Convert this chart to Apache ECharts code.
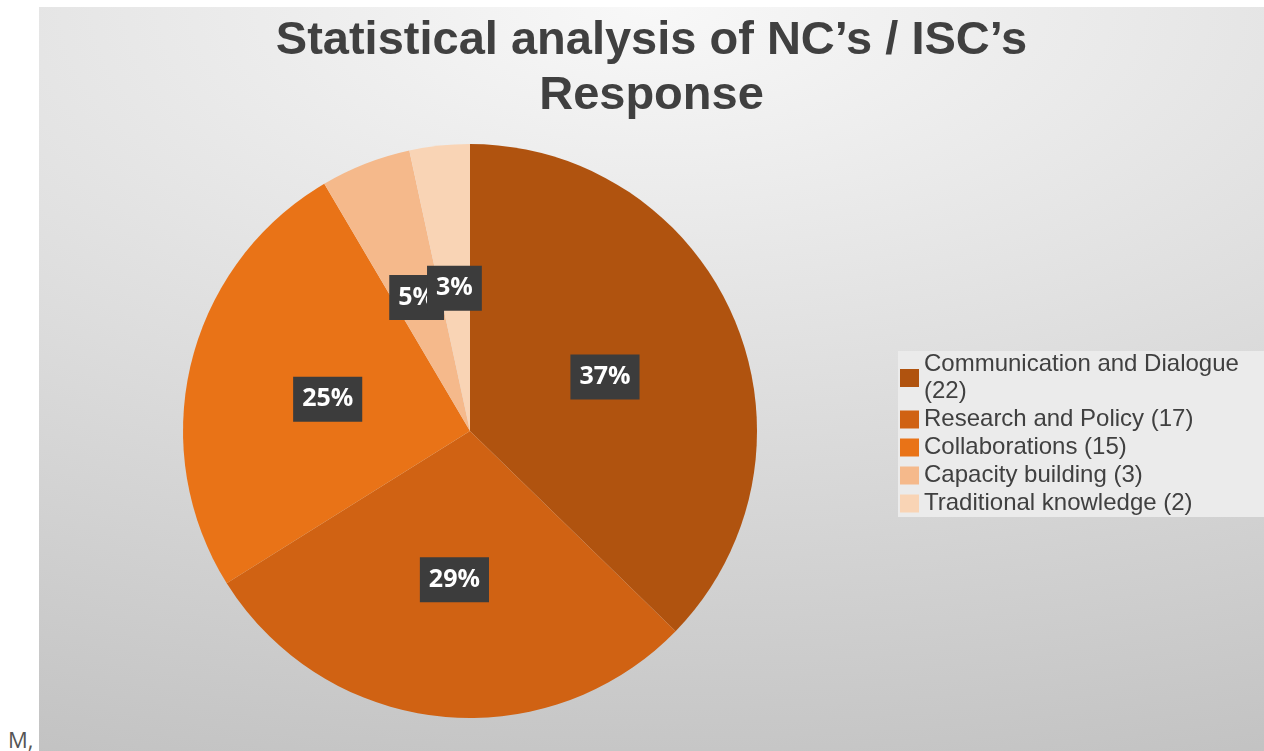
<!DOCTYPE html>
<html>
<head>
<meta charset="utf-8">
<script src="https://cdn.jsdelivr.net/npm/echarts@6/dist/echarts.min.js"></script>
<style>
  html, body { margin: 0; padding: 0; background: #ffffff; width: 1264px; height: 751px; overflow: hidden; }
  #bg { position: absolute; left: 39px; top: 7px; width: 1225px; height: 744px;
        background: radial-gradient(ellipse 160% 120% at 50% 0%, #f8f8f8 0%, #bcbcbc 100%); }
  #chart { position: absolute; left: 39px; top: 7px; width: 1225px; height: 744px; }
  #note { position: absolute; left: 8px; top: 724px; font-family: "Open Sans", sans-serif; font-size: 22px; color: #555555; }
</style>
</head>
<body>
<div id="bg"></div>
<div id="chart"></div>
<div id="note">M,</div>
<script>
const titleText = 'Statistical analysis of NC\u2019s / ISC\u2019s\nResponse';
const categories = ['Communication and Dialogue', 'Research and Policy', 'Collaborations', 'Capacity building', 'Traditional knowledge'];
const counts = [22, 17, 15, 3, 2];
const colors = ['#b0530f', '#d06213', '#e97317', '#f5b98b', '#f9d4b5'];

const seriesData = categories.map((c, i) => ({
  name: c + ' (' + counts[i] + ')',
  value: counts[i],
  itemStyle: { color: colors[i] }
}));

const chart = echarts.init(document.getElementById('chart'), null, { renderer: 'canvas' });
chart.setOption({
  backgroundColor: 'transparent',
  animation: false,
  title: {
    text: titleText,
    left: 'center',
    top: 7,
    padding: 0,
    textStyle: {
      fontFamily: '"Liberation Sans", Arial, sans-serif',
      fontSize: 47,
      fontWeight: 'bold',
      color: '#404040',
      lineHeight: 55
    }
  },
  legend: {
    orient: 'vertical',
    left: 859,
    top: 344,
    padding: [0, 40, 0, 2],
    backgroundColor: '#ebebeb',
    itemWidth: 19,
    itemHeight: 18,
    itemGap: 1,
    icon: 'rect',
    selectedMode: false,
    textStyle: {
      fontFamily: '"Liberation Sans", Arial, sans-serif',
      fontSize: 24,
      color: '#404040',
      lineHeight: 27,
      width: 330,
      overflow: 'break'
    },
    data: seriesData.map(d => d.name)
  },
  series: [{
    type: 'pie',
    center: [431, 424],
    radius: [0, 287],
    startAngle: 90,
    clockwise: true,
    avoidLabelOverlap: false,
    labelLayout: { hideOverlap: false },
    data: seriesData,
    label: {
      show: true,
      position: 'inside',
      offset: [0, 3],
      formatter: p => Math.round(p.percent) + '%',
      color: '#ffffff',
      fontFamily: '"Open Sans", sans-serif',
      fontWeight: 'bold',
      fontSize: 25,
      lineHeight: 29,
      backgroundColor: '#3c3c3c',
      padding: [8, 9, 8, 9]
    },
    labelLine: { show: false },
    emphasis: { disabled: true },
    itemStyle: { borderWidth: 0 }
  }]
});
</script>
</body>
</html>
